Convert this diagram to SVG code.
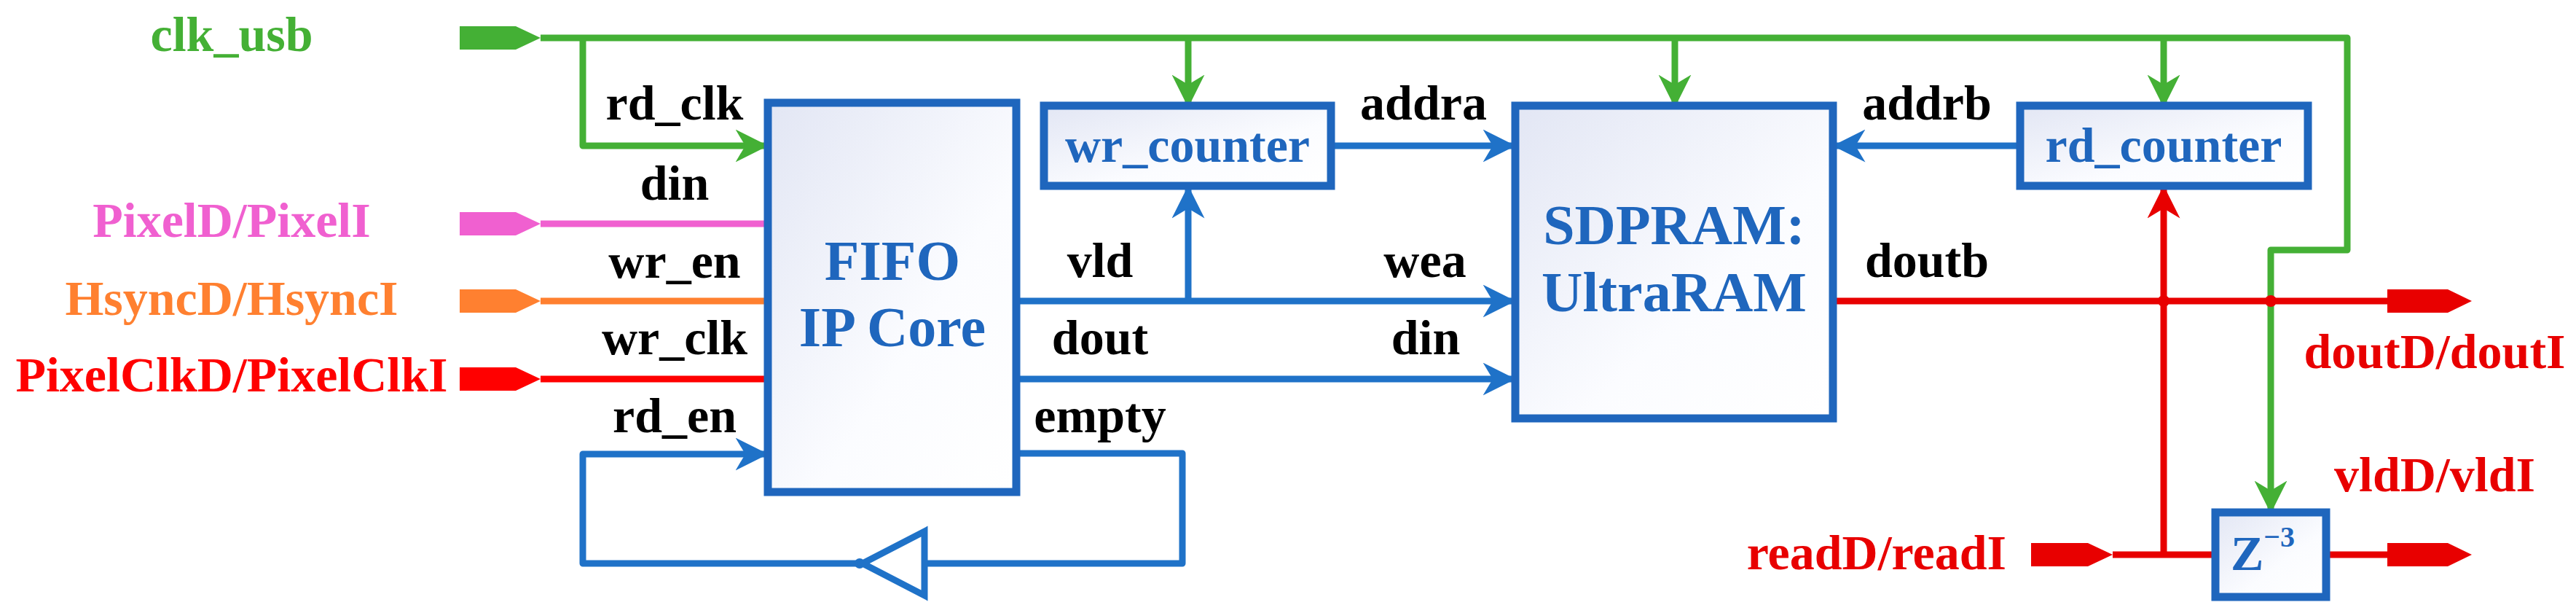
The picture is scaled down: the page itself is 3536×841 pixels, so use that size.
<svg xmlns="http://www.w3.org/2000/svg" width="3536" height="841" viewBox="0 0 3536 841">
<style>
.lbl{font-family:"Liberation Serif",serif;font-weight:bold;font-size:68px;fill:#000;text-anchor:middle}
.io{font-family:"Liberation Serif",serif;font-weight:bold;font-size:68px;text-anchor:middle}
.blk{font-family:"Liberation Serif",serif;font-weight:bold;font-size:78px;fill:#1f66bd;text-anchor:middle}
.cnt{font-family:"Liberation Serif",serif;font-weight:bold;font-size:68px;fill:#1f66bd;text-anchor:middle}
.box{fill:url(#g);stroke:#1f66bd;stroke-width:11}
.wb{fill:none;stroke:#1f72c8;stroke-width:9;stroke-linejoin:round}
.wg{fill:none;stroke:#44b035;stroke-width:9;stroke-linejoin:round}
.wr{fill:none;stroke:#e80000;stroke-width:9;stroke-linejoin:round}
</style>
<defs>
<linearGradient id="g" x1="0" y1="0" x2="1" y2="1"><stop offset="0" stop-color="#e2e6f4"/><stop offset="0.6" stop-color="#fbfcff"/><stop offset="1" stop-color="#ffffff"/></linearGradient>
<marker id="ab" viewBox="0 0 10 10" refX="9" refY="5" markerWidth="5" markerHeight="5" markerUnits="strokeWidth" orient="auto"><path d="M0,0 L10,5 L0,10 L3,5 z" fill="#1f72c8"/></marker>
<marker id="ag" viewBox="0 0 10 10" refX="9" refY="5" markerWidth="5" markerHeight="5" markerUnits="strokeWidth" orient="auto"><path d="M0,0 L10,5 L0,10 L3,5 z" fill="#44b035"/></marker>
<marker id="ar" viewBox="0 0 10 10" refX="9" refY="5" markerWidth="5" markerHeight="5" markerUnits="strokeWidth" orient="auto"><path d="M0,0 L10,5 L0,10 L3,5 z" fill="#e80000"/></marker>
</defs>

<g id="connectors">
<path class="wg" d="M742,52 H3222 V343 H3117 V700" marker-end="url(#ag)"/>
<path class="wg" d="M800,52 V200 H1050" marker-end="url(#ag)"/>
<path class="wg" d="M1631,52 V143" marker-end="url(#ag)"/>
<path class="wg" d="M2299,52 V143" marker-end="url(#ag)"/>
<path class="wg" d="M2970,52 V143" marker-end="url(#ag)"/>
<path d="M742,307 H1054" stroke="#f060d0" stroke-width="9" fill="none"/>
<path d="M742,413 H1054" stroke="#ff8030" stroke-width="9" fill="none"/>
<path d="M742,520 H1054" stroke="#f00" stroke-width="9" fill="none"/>
<path class="wb" d="M1184,773 H800 V623 H1050" marker-end="url(#ab)"/>
<path class="wb" d="M1395,622 H1623 V773 H1270"/>
<circle cx="1180" cy="773" r="7" fill="#1f72c8"/>
<path class="wb" d="M1827,200 H2076" marker-end="url(#ab)"/>
<path class="wb" d="M1395,413 H2076" marker-end="url(#ab)"/>
<path class="wb" d="M1631,413 V259" marker-end="url(#ab)"/>
<path class="wb" d="M1395,520 H2076" marker-end="url(#ab)"/>
<path class="wb" d="M2773,200 H2520" marker-end="url(#ab)"/>
<path class="wr" d="M2516,413 H3277"/>
<path class="wr" d="M2970,761 V259" marker-end="url(#ar)"/>
<circle cx="2970" cy="413" r="8" fill="#e80000"/>
<circle cx="3117" cy="413" r="8" fill="#e80000"/>
<path class="wr" d="M2900,761 H3041"/>
<path class="wr" d="M3193,761 H3277"/>
</g>

<g id="inputs">
<polygon points="631,36 708,36 742,52 708,68 631,68" fill="#44b035"/>
<text class="io" x="318" y="70" fill="#44b035">clk_usb</text>
<polygon points="631,291 708,291 742,307 708,323 631,323" fill="#f060d0"/>
<text class="io" x="318" y="325" fill="#f060d0">PixelD/PixelI</text>
<polygon points="631,397 708,397 742,413 708,429 631,429" fill="#ff8030"/>
<text class="io" x="318" y="432" fill="#ff8030">HsyncD/HsyncI</text>
<polygon points="631,504 708,504 742,520 708,536 631,536" fill="#f00"/>
<text class="io" x="318" y="537" fill="#f00">PixelClkD/PixelClkI</text>
<polygon points="2788,745 2866,745 2900,761 2866,777 2788,777" fill="#e80000"/>
<text class="io" x="2754" y="781" fill="#e80000" style="text-anchor:end">readD/readI</text>
</g>

<g id="outputs">
<polygon points="3277,397 3360,397 3393,413 3360,429 3277,429" fill="#e80000"/>
<text class="io" x="3342" y="505" fill="#e80000">doutD/doutI</text>
<polygon points="3277,745 3360,745 3393,761 3360,777 3277,777" fill="#e80000"/>
<text class="io" x="3342" y="674" fill="#e80000">vldD/vldI</text>
</g>

<g id="fifo">
<rect class="box" x="1054" y="141" width="341" height="534"/>
<text class="blk" x="1225" y="384">FIFO</text>
<text class="blk" x="1225" y="475">IP Core</text>
</g>
<g id="buffer">
<polygon points="1184,773 1269,729 1269,817" fill="#fff" stroke="#1f72c8" stroke-width="9" stroke-linejoin="miter"/>
</g>
<g id="wr_counter">
<rect class="box" x="1433" y="145" width="394" height="110"/>
<text class="cnt" x="1630" y="222">wr_counter</text>
</g>
<g id="sdpram">
<rect class="box" x="2080" y="145" width="436" height="429"/>
<text class="blk" x="2298" y="335">SDPRAM:</text>
<text class="blk" x="2298" y="427">UltraRAM</text>
</g>
<g id="rd_counter">
<rect class="box" x="2773" y="145" width="395" height="110"/>
<text class="cnt" x="2970" y="222">rd_counter</text>
</g>
<g id="z3">
<rect class="box" x="3041" y="703" width="152" height="116"/>
<text class="cnt" x="3106" y="782" font-size="78">Z<tspan font-size="40" dy="-32">−3</tspan></text>
</g>

<g id="labels">
<text class="lbl" x="926" y="164">rd_clk</text>
<text class="lbl" x="926" y="274">din</text>
<text class="lbl" x="926" y="381">wr_en</text>
<text class="lbl" x="926" y="486">wr_clk</text>
<text class="lbl" x="926" y="593">rd_en</text>
<text class="lbl" x="1510" y="380">vld</text>
<text class="lbl" x="1510" y="486">dout</text>
<text class="lbl" x="1510" y="593">empty</text>
<text class="lbl" x="1954" y="164">addra</text>
<text class="lbl" x="1956" y="380">wea</text>
<text class="lbl" x="1957" y="486">din</text>
<text class="lbl" x="2645" y="164">addrb</text>
<text class="lbl" x="2645" y="380">doutb</text>
</g>
</svg>
